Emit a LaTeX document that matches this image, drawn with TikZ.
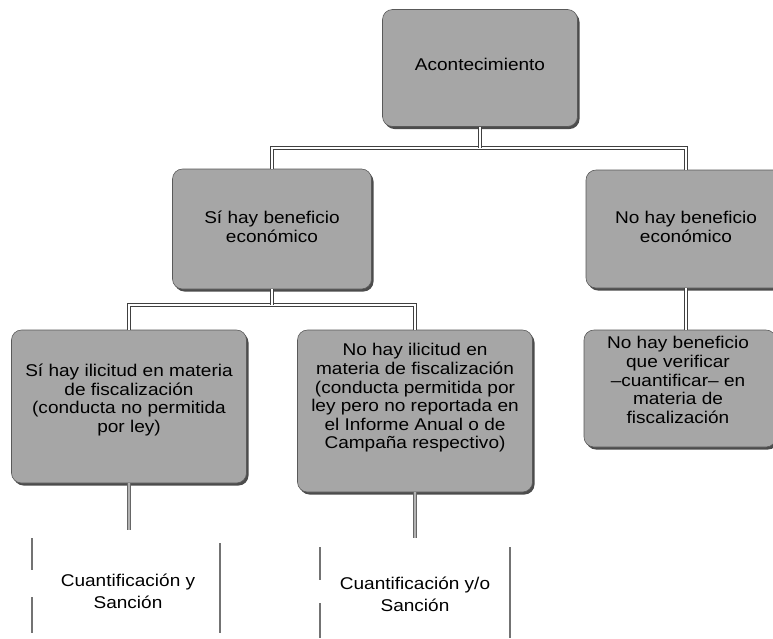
\documentclass[tikz,border=0pt]{standalone}
\usepackage{fontspec}
\setmainfont{Liberation Sans}[FakeStretch=1.12]
\usetikzlibrary{shadows}
\begin{document}
\begin{tikzpicture}[x=1pt,y=-1pt,
  box/.style={draw=black!65, line width=0.6pt, fill=black!35, rounded corners=10pt,
    inner sep=0pt,
    drop shadow={shadow xshift=2pt, shadow yshift=-2.5pt, fill=black!70, opacity=1}},
  txt/.style={align=center, font=\fontsize{17}{18.6}\selectfont, inner sep=1pt},
  conn/.style={draw=black!75, line width=0.7pt, double=white, double distance=2.4pt},
  conn2/.style={draw=black!60, line width=0.6pt, double=black!30, double distance=2pt},
  btxt/.style={align=center, font=\fontsize{17}{22}\selectfont, inner sep=1pt},
  side/.style={draw=black!55, line width=1.1pt}]
\useasboundingbox (0,0) rectangle (773,638);
\clip (0,0) rectangle (773,638);
\fill[white] (0,0) rectangle (773,638);

\node[box, minimum width=195pt, minimum height=117pt] (top) at (480,68) {};
\node[box, minimum width=199pt, minimum height=120pt] (si) at (272,229) {};
\node[box, minimum width=200pt, minimum height=118pt] (no) at (686,229) {};
\node[box, minimum width=235pt, minimum height=153pt] (il) at (129,406.5) {};
\node[box, minimum width=235pt, minimum height=162pt] (nil) at (415,411) {};
\node[box, minimum width=192pt, minimum height=117pt] (nv) at (680,388.5) {};

\node[txt] (toptx) at (480,64) {Acontecimiento};
\node[txt] (sitx) at (272,227) {Sí hay beneficio\\económico};
\node[txt] (notx) at (686,227) {No hay beneficio\\económico};
\node[txt] (iltx) at (129,400) {Sí hay ilicitud en materia\\de fiscalización\\(conducta no permitida\\por ley)};
\node[txt] (niltx) at (415,398) {No hay ilicitud en\\materia de fiscalización\\(conducta permitida por\\ley pero no reportada en\\el Informe Anual o de\\Campaña respectivo)};
\node[txt] (nvtx) at (678,380) {No hay beneficio\\que verificar\\–cuantificar– en\\materia de\\fiscalización};

\coordinate (j1) at (480,148);
\coordinate (j1l) at (si.north |- j1);
\coordinate (j1r) at (no.north |- j1);
\draw[conn] (si.north) -- (j1l) -- (j1r) -- (no.north);
\draw[conn] (top.south) -- (j1);
\coordinate (j2) at (272,305);
\coordinate (j2l) at (il.north |- j2);
\coordinate (j2r) at (nil.north |- j2);
\draw[conn] (il.north) -- (j2l) -- (j2r) -- (nil.north);
\draw[conn] (si.south) -- (j2);
\draw[conn] (no.south) -- (no.south |- nv.north);

\coordinate (e1) at (129,530);
\coordinate (e2) at (415,538);
\draw[conn2] (il.south) -- (e1);
\draw[conn2] (nil.south) -- (e2);

\node[btxt] (b1) at (128,591) {Cuantificación y\\Sanción};
\node[btxt] (b2) at (415,594) {Cuantificación y/o\\Sanción};

\draw[side] (32,538) -- (32,570);
\draw[side] (32,597) -- (32,633);
\draw[side] (220,543) -- (220,633);
\draw[side] (320,547) -- (320,580);
\draw[side] (320,603) -- (320,638);
\draw[side] (510,547) -- (510,638);
\end{tikzpicture}
\end{document}
